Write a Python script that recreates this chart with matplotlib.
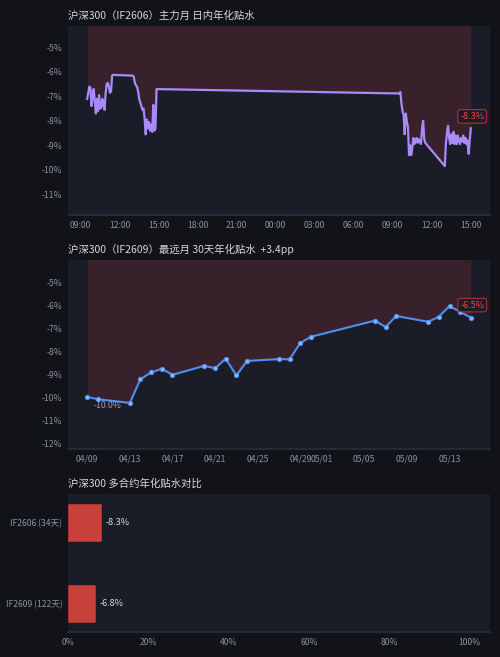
import numpy as np
import pandas as pd
import matplotlib
matplotlib.use("Agg")
import matplotlib.pyplot as plt
import matplotlib.dates as mdates
from matplotlib.ticker import FixedLocator, FuncFormatter

plt.rcParams['font.family'] = ['Noto Sans CJK SC', 'DejaVu Sans']

# ---------------- data ----------------
# Panel 1: intraday annualised basis, IF2606 (5-minute samples)
day1_am = [-7.10, -6.85, -6.60, -6.65, -7.40, -7.05, -6.70, -7.20, -7.70, -7.10,
           -7.60, -6.95, -7.50, -7.45, -7.10, -7.30, -7.55, -6.90, -6.50, -6.45,
           -6.60, -6.85, -6.80, -6.15, -6.12]
day1_pm = [-6.15, -6.20, -6.45, -6.55, -6.60, -6.80, -7.10, -7.25, -7.40, -7.55,
           -7.50, -7.90, -8.55, -7.95, -8.30, -8.05, -8.40, -8.15, -8.45, -7.35,
           -8.40, -8.30, -6.70]
day2_am = [-6.88, -6.82, -7.30, -7.60, -7.75, -8.55, -7.70, -8.05, -8.25, -9.40,
           -9.00, -9.40, -9.10, -8.70, -8.95, -8.85, -8.70, -8.90, -8.75, -8.85,
           -8.95, -8.30, -8.00, -8.75, -8.90]
day2_pm = [-9.85, -8.95, -8.50, -8.20, -8.70, -8.95, -8.55, -8.90, -8.45, -8.95,
           -8.60, -8.95, -8.60, -8.80, -8.95, -8.70, -8.85, -8.60, -8.90, -8.70,
           -8.95, -8.80, -9.35, -8.80, -8.30]
day1 = "2026-05-14"
day2 = "2026-05-15"

# Panel 2: daily 30-day annualised basis, IF2609
far_dates = ["2026-04-09", "2026-04-10", "2026-04-13", "2026-04-14", "2026-04-15",
             "2026-04-16", "2026-04-17", "2026-04-20", "2026-04-21", "2026-04-22",
             "2026-04-23", "2026-04-24", "2026-04-27", "2026-04-28", "2026-04-29",
             "2026-04-30", "2026-05-06", "2026-05-07", "2026-05-08", "2026-05-11",
             "2026-05-12", "2026-05-13", "2026-05-14", "2026-05-15"]
far_values = [-9.96, -10.06, -10.22, -9.19, -8.90, -8.74, -9.00, -8.61, -8.72, -8.30,
              -9.03, -8.40, -8.32, -8.33, -7.62, -7.35, -6.65, -6.93, -6.45, -6.70,
              -6.48, -6.02, -6.27, -6.52]

# Panel 3: contract comparison
contracts = ["IF2606 (34天)", "IF2609 (122天)"]
contract_basis = [-8.3, -6.8]
pct_ticks = [0, 20, 40, 60, 80, 100]

# ---------------- styles ----------------
FIG_BG = '#111318'
AX_BG = '#1a1c27'
TXT = '#d6d8de'
TICK = '#8e929e'
SPINE = '#2a2e3b'
RED = '#ef4444'
PURPLE = '#a78bfa'
BLUE = '#4f8ff0'


def session(day, start, end, vals):
    idx = pd.date_range(f"{day} {start}", f"{day} {end}", freq="5min")
    return pd.Series(vals, index=idx[:len(vals)])


intraday = pd.concat([
    session(day1, "09:30", "11:30", day1_am),
    session(day1, "13:00", "14:50", day1_pm),
    session(day2, "09:30", "11:30", day2_am),
    session(day2, "13:00", "15:00", day2_pm),
])

far = pd.Series(far_values, index=pd.to_datetime(far_dates))

fig = plt.figure(figsize=(5.0, 6.57), dpi=100, facecolor=FIG_BG)

W, H = 500.0, 657.0


def add_ax(left, top, right, bottom):
    return fig.add_axes([left / W, 1 - bottom / H, (right - left) / W, (bottom - top) / H])


def style(ax):
    ax.set_facecolor(AX_BG)
    for s in ['left', 'right', 'top']:
        ax.spines[s].set_visible(False)
    ax.spines['bottom'].set_color(SPINE)
    ax.spines['bottom'].set_linewidth(1.2)
    ax.tick_params(colors=TICK, labelsize=6.2, length=0, pad=4)
    ax.grid(False)


def pct_fmt(v, pos):
    return f"{v:.0f}%"


def ticks_in(lo, hi):
    return [t for t in range(-15, 1) if lo + 0.05 < t < hi - 0.05]


# ---------------- panel 1 ----------------
ax1 = add_ax(68, 26, 490, 215)
style(ax1)
x1 = intraday.index
y1 = intraday.values
ax1.fill_between(x1, y1, 0, color=RED, alpha=0.15, linewidth=0)
ax1.plot(x1, y1, color=PURPLE, linewidth=1.6)
lo1, hi1 = y1.min() - 2, y1.max() + 2
ax1.set_ylim(lo1, hi1)
ax1.yaxis.set_major_locator(FixedLocator(ticks_in(lo1, hi1)))
ax1.yaxis.set_major_formatter(FuncFormatter(pct_fmt))
ax1.margins(x=0.05)
ax1.xaxis.set_major_locator(mdates.HourLocator(byhour=range(0, 24, 3)))
ax1.xaxis.set_major_formatter(mdates.DateFormatter('%H:%M'))
ax1.set_title("沪深300（IF2606）主力月 日内年化贴水", loc='left', color=TXT,
              fontsize=7.5, pad=5)
ax1.annotate(f"{y1[-1]:.1f}%", xy=(x1[-1], y1[-1]), xytext=(1, 8.5),
             textcoords='offset points', ha='center', va='center',
             color=RED, fontsize=6.5,
             bbox=dict(boxstyle='round,pad=0.25', fc=AX_BG, ec='#c53030', lw=0.8, alpha=0.9))

# ---------------- panel 2 ----------------
ax2 = add_ax(68, 260, 490, 449)
style(ax2)
x2 = far.index
y2 = far.values
ax2.fill_between(x2, y2, 0, color=RED, alpha=0.15, linewidth=0)
ax2.plot(x2, y2, color=BLUE, linewidth=1.5, marker='o', markersize=3,
         markerfacecolor='#8db8f5', markeredgecolor=BLUE, markeredgewidth=0.8)
lo2, hi2 = y2.min() - 2, y2.max() + 2
ax2.set_ylim(lo2, hi2)
ax2.yaxis.set_major_locator(FixedLocator(ticks_in(lo2, hi2)))
ax2.yaxis.set_major_formatter(FuncFormatter(pct_fmt))
ax2.margins(x=0.05)
ax2.xaxis.set_major_locator(mdates.DayLocator(bymonthday=range(1, 32, 4)))
ax2.xaxis.set_major_formatter(mdates.DateFormatter('%m/%d'))
change = y2[-1] - y2[0]
ax2.set_title(f"沪深300（IF2609）最远月 30天年化贴水  {change:+.1f}pp", loc='left',
              color=TXT, fontsize=7.5, pad=5)
ax2.annotate(f"{y2[0]:.1f}%", xy=(x2[0], y2[0]), xytext=(14.5, -6.5),
             textcoords='offset points', ha='center', va='center',
             color='#9aa0ab', fontsize=6.3)
ax2.annotate(f"{y2[-1]:.1f}%", xy=(x2[-1], y2[-1]), xytext=(1, 9),
             textcoords='offset points', ha='center', va='center',
             color=RED, fontsize=6.5,
             bbox=dict(boxstyle='round,pad=0.25', fc=AX_BG, ec='#c53030', lw=0.8, alpha=0.9))

# ---------------- panel 3 ----------------
ax3 = add_ax(68, 494, 490, 632)
style(ax3)
ypos = np.arange(len(contracts))
widths = [abs(v) for v in contract_basis]
ax3.barh(ypos, widths, height=0.45, color='#c8413a', edgecolor='#b83a33', linewidth=0.5)
for yp, w, v in zip(ypos, widths, contract_basis):
    ax3.text(w + 1, yp, f"{v:.1f}%", va='center', ha='left', color=TXT, fontsize=6.5)
ax3.set_yticks(ypos)
ax3.set_yticklabels(contracts)
ax3.set_ylim(len(contracts) - 1 + 0.35, -0.35)
ax3.set_xlim(0, 105)
ax3.set_xticks(pct_ticks)
ax3.xaxis.set_major_formatter(FuncFormatter(pct_fmt))
ax3.set_title("沪深300 多合约年化贴水对比", loc='left', color=TXT, fontsize=7.5, pad=5)

fig.savefig("out.png", dpi=100, facecolor=FIG_BG)
